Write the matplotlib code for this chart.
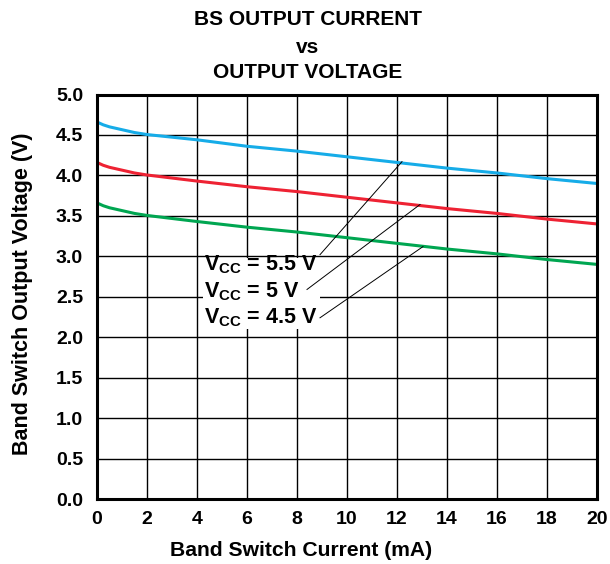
import matplotlib
matplotlib.use("Agg")
import matplotlib.pyplot as plt

plt.rcParams['font.family'] = ['Liberation Sans', 'DejaVu Sans']
plt.rcParams['font.weight'] = 'bold'
plt.rcParams['mathtext.fontset'] = 'custom'
plt.rcParams['mathtext.rm'] = 'Liberation Sans:bold'
plt.rcParams['mathtext.bf'] = 'Liberation Sans:bold'
plt.rcParams['mathtext.it'] = 'Liberation Sans:bold'

# Data
current_ma = [0, 0.25, 0.5, 1, 1.5, 2, 4, 6, 8, 10, 12, 14, 16, 18, 20]
v_55 = [4.66, 4.625, 4.60, 4.565, 4.53, 4.505, 4.44, 4.36, 4.30, 4.23, 4.16, 4.09, 4.03, 3.96, 3.90]
v_50 = [4.16, 4.125, 4.10, 4.065, 4.03, 4.005, 3.93, 3.86, 3.80, 3.73, 3.66, 3.59, 3.53, 3.46, 3.40]
v_45 = [3.66, 3.625, 3.60, 3.565, 3.53, 3.505, 3.43, 3.36, 3.30, 3.23, 3.16, 3.09, 3.03, 2.96, 2.90]
x_ticks = [0, 2, 4, 6, 8, 10, 12, 14, 16, 18, 20]
y_ticks = [0.0, 0.5, 1.0, 1.5, 2.0, 2.5, 3.0, 3.5, 4.0, 4.5, 5.0]
labels = [r'$\mathrm{V_{CC}}$ = 5.5 V', r'$\mathrm{V_{CC}}$ = 5 V', r'$\mathrm{V_{CC}}$ = 4.5 V']
label_text_pos = [(4.3, 2.824), (4.3, 2.49), (4.3, 2.176)]
leader_start = [(8.92, 3.02), (8.4, 2.59), (8.92, 2.24)]
leader_end = [(12.2, 4.17), (12.92, 3.64), (13.04, 3.12)]

W, H = 610, 564
fig = plt.figure(figsize=(W / 100, H / 100), dpi=100)
ax = fig.add_axes([97 / W, 1 - 499 / H, 500 / W, 404.5 / H])

ax.plot(current_ma, v_55, color='#16ACE8', lw=2.2, zorder=3)
ax.plot(current_ma, v_50, color='#EE2233', lw=2.2, zorder=3)
ax.plot(current_ma, v_45, color='#00A651', lw=2.2, zorder=3)

ax.set_xlim(0, 20)
ax.set_ylim(0, 5)
ax.set_xticks(x_ticks)
ax.set_yticks(y_ticks)
ax.set_xticklabels([str(t) for t in x_ticks])
ax.set_yticklabels([f'{t:.1f}' for t in y_ticks])
ax.tick_params(axis='both', length=0, labelsize=14)
ax.tick_params(axis='x', pad=9)
ax.tick_params(axis='y', pad=10)
ax.grid(True, color='black', lw=1.0)
ax.set_axisbelow(True)
for s in ax.spines.values():
    s.set_linewidth(2.2)
    s.set_zorder(5)

# white box behind labels
ax.fill_between([4.22, 8.92], [2.1, 2.1], [2.98, 2.98], color='white', zorder=2, lw=0)

for (tx, ty), txt in zip(label_text_pos, labels):
    ax.text(tx, ty, txt, ha='left', va='baseline', fontsize=15.5, fontweight='bold', zorder=4)
for (x0, y0), (x1, y1) in zip(leader_start, leader_end):
    ax.plot([x0, x1], [y0, y1], color='black', lw=0.7, zorder=4)

fig.text(301 / W, 1 - 551 / H, 'Band Switch Current (mA)', ha='center', va='center',
         fontsize=15.2, fontweight='bold')
fig.text(23 / W, 1 - 294 / H, 'Band Switch Output Voltage (V)', ha='center', va='center',
         rotation=90, fontsize=15.5, fontweight='bold')

fig.text(308 / W, 1 - 25 / H, 'BS OUTPUT CURRENT', ha='center', va='baseline', fontsize=15, fontweight='bold')
fig.text(308 / W, 1 - 53 / H, 'vs', ha='center', va='baseline', fontsize=15, fontweight='bold')
fig.text(308 / W, 1 - 78 / H, 'OUTPUT VOLTAGE', ha='center', va='baseline', fontsize=15, fontweight='bold')

fig.savefig('out.png', dpi=100)
